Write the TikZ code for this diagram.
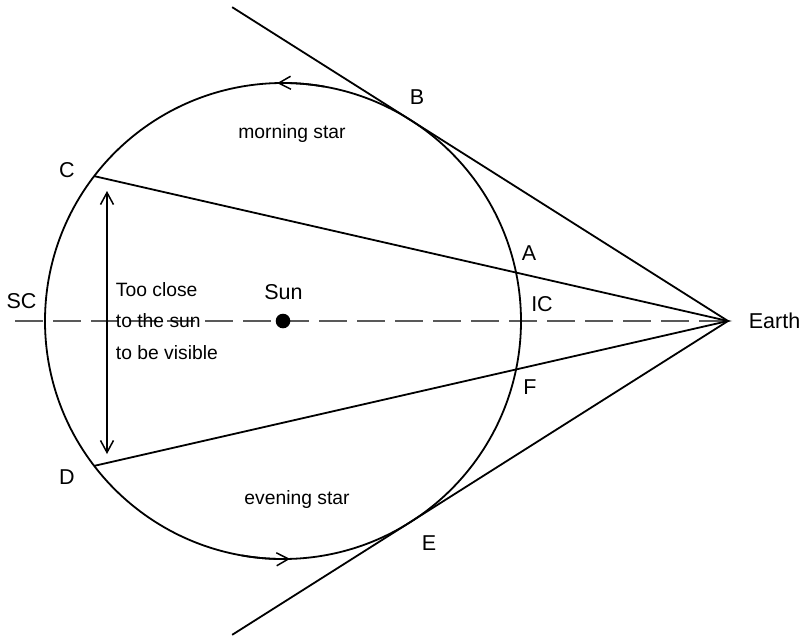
\documentclass[tikz,border=0pt]{standalone}
\usepackage{fontspec}
\setmainfont{Liberation Sans}
\usetikzlibrary{arrows.meta, calc}

\begin{document}
\begin{tikzpicture}[x=1pt, y=-1pt, line width=1.8pt,
    lbl/.style={inner sep=0pt, font=\fontsize{21.5}{26}\selectfont},
    note/.style={inner sep=0pt, anchor=base west, font=\fontsize{19.3}{23}\selectfont},
    barb/.style={-{Straight Barb[length=12pt,width=13pt,line width=1.5pt]}}]
        \useasboundingbox (0,0) rectangle (804,638);

        % Sun, Earth and the points on the orbit
        \coordinate (sun) at (283,321);
        \coordinate (earth) at (728,321);
        \coordinate (scend) at (15,321);
        \coordinate (B) at ($(sun)+(57.7:238pt)$);
        \coordinate (E) at ($(sun)+(-57.7:238pt)$);
        \coordinate (C) at ($(sun)+(142.5:238pt)$);
        \coordinate (D) at ($(sun)+(217.5:238pt)$);
        \coordinate (toptip) at (107,191);
        \coordinate (bottip) at (107,454);

        % Line of sight through the sun
        \draw[line width=1.3pt, black!65, dash pattern=on 28pt off 10pt] (scend) -- (earth);

        % Orbit
        \draw (sun) circle[radius=238pt];
        \draw[barb] ($(sun)+(80:238pt)$) arc[start angle=80, end angle=91.4, radius=238pt];
        \draw[barb] ($(sun)+(260:238pt)$) arc[start angle=260, end angle=271.7, radius=238pt];
        \fill (sun) circle[radius=7.3pt];

        % Tangents and sight lines
        \draw ($(earth)!1.56!(B)$) -- (earth) -- ($(earth)!1.56!(E)$);
        \draw (C) -- (earth) -- (D);

        % Range too close to the sun
        \draw[{Straight Barb[length=12pt,width=13pt,line width=1.5pt]}-{Straight Barb[length=12pt,width=13pt,line width=1.5pt]}] (toptip) -- (bottip);

        % Labels
        \node (lblB) [lbl] at (417,97) {B};
        \node (lblE) [lbl] at (429,543) {E};
        \node (lblA) [lbl] at (529,253) {A};
        \node (lblIC) [lbl] at (542,304) {IC};
        \node (lblF) [lbl] at (530,387) {F};
        \node (lblC) [lbl] at (67,170) {C};
        \node (lblD) [lbl] at (67,477) {D};
        \node (lblSC) [lbl] at (21.5,301) {SC};
        \node (lblsun) [lbl] at (283.5,292) {Sun};
        \node (lblearth) [lbl, anchor=west] at (748,321) {Earth};

        \node (morning) [note, anchor=base] at (292,138) {morning star};
        \node (evening) [note, anchor=base] at (297,504) {evening star};
        \node (close1) [note] at (115,296) {Too close};
        \node (close2) [note] at (115,327.5) {to the sun};
        \node (close3) [note] at (115,359) {to be visible};
    \end{tikzpicture}
\end{document}
